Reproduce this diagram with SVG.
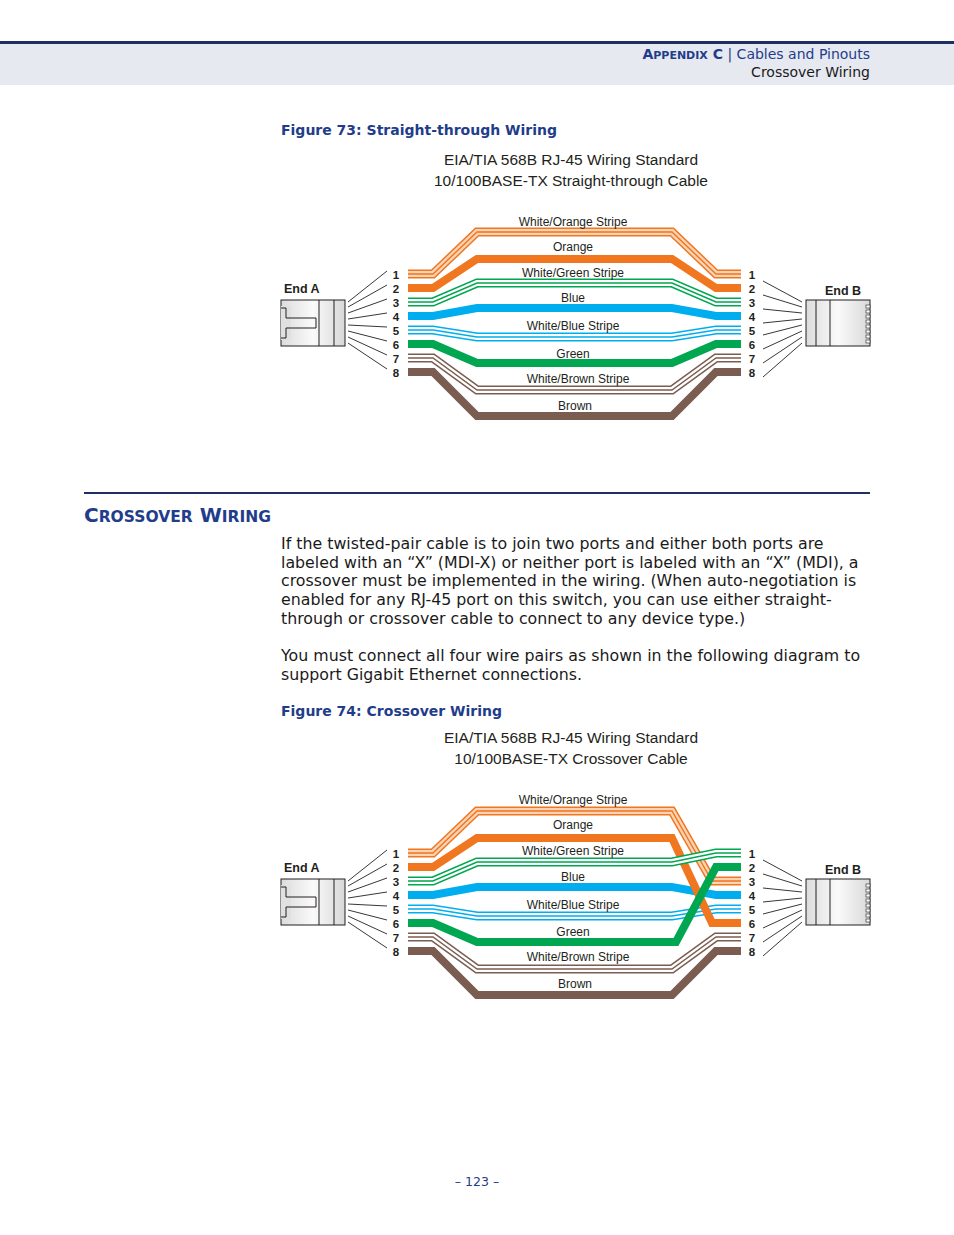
<svg xmlns="http://www.w3.org/2000/svg" width="954" height="1235" viewBox="0 0 954 1235">
<style>
.hd{font-family:"DejaVu Sans",sans-serif;fill:#1f3d8a;font-size:14px}
.body{font-family:"DejaVu Sans",sans-serif;fill:#1a1a1a;font-size:15.8px}
.cap{font-family:"DejaVu Sans",sans-serif;fill:#1f3d8a;font-size:14px;font-weight:bold}
.tt{font-family:"Liberation Sans",Arial,sans-serif;fill:#231f20;font-size:15.5px;text-anchor:middle}
.wl{font-family:"Liberation Sans",Arial,sans-serif;fill:#231f20;font-size:12px;text-anchor:middle}
.pn{font-family:"Liberation Sans",Arial,sans-serif;fill:#231f20;font-size:11.5px;font-weight:bold;text-anchor:middle}
.en{font-family:"Liberation Sans",Arial,sans-serif;fill:#231f20;font-size:12.5px;font-weight:bold}
path{fill:none;stroke-linejoin:miter}
.o1{stroke:#f07620;stroke-width:9}.g1{stroke:#00a650;stroke-width:9}.b1{stroke:#00aeef;stroke-width:9}.r1{stroke:#7a5c50;stroke-width:9}
.w{stroke:#fff;stroke-width:6}
.wo{stroke:#fbd3b5;stroke-width:6}
.o2{stroke:#f07620;stroke-width:1.4}.g2{stroke:#00a650;stroke-width:1.4}.b2{stroke:#00aeef;stroke-width:1.4}.r2{stroke:#7a5c50;stroke-width:1.4}
.O{stroke:#f07620;stroke-width:8}.G{stroke:#00a650;stroke-width:8}.B{stroke:#00aeef;stroke-width:8}.R{stroke:#7a5c50;stroke-width:8}
.fan line{stroke:#231f20;stroke-width:0.9}
</style>
<defs>
<linearGradient id="cg" x1="0" y1="0" x2="1" y2="0"><stop offset="0" stop-color="#dcdcdc"/><stop offset="0.5" stop-color="#fafafa"/><stop offset="1" stop-color="#d8d8d8"/></linearGradient>
<g id="endA">
<rect x="281" y="300" width="64" height="46" fill="url(#cg)" stroke="#231f20"/>
<rect x="281" y="306" width="10" height="34" fill="#e0e0e0" stroke="none"/>
<path d="M281 308 H286 V318 H316 V328 H286 V338 H281" stroke="#231f20" stroke-width="1"/>
<line x1="319" y1="300" x2="319" y2="346" stroke="#231f20"/>
<line x1="334" y1="300" x2="334" y2="346" stroke="#231f20"/>
<g class="fan">
<line x1="387" y1="271" x2="348" y2="302"/><line x1="387" y1="285" x2="348" y2="307"/>
<line x1="387" y1="299" x2="348" y2="313"/><line x1="387" y1="313" x2="348" y2="319"/>
<line x1="387" y1="327" x2="348" y2="325"/><line x1="387" y1="341" x2="348" y2="331"/>
<line x1="387" y1="355" x2="348" y2="337"/><line x1="387" y1="369" x2="348" y2="343"/>
</g>
<text class="en" x="284" y="293">End A</text>
</g>
<g id="endB">
<rect x="806" y="300" width="64" height="46" fill="url(#cg)" stroke="#231f20"/>
<line x1="816" y1="300" x2="816" y2="346" stroke="#231f20"/>
<line x1="830" y1="300" x2="830" y2="346" stroke="#231f20"/>
<g fill="#fff" stroke="#231f20" stroke-width="0.6">
<rect x="866" y="305" width="4" height="3"/><rect x="866" y="310" width="4" height="3"/><rect x="866" y="315" width="4" height="3"/><rect x="866" y="320" width="4" height="3"/><rect x="866" y="325" width="4" height="3"/><rect x="866" y="330" width="4" height="3"/><rect x="866" y="335" width="4" height="3"/><rect x="866" y="340" width="4" height="3"/>
</g>
<g class="fan">
<line x1="763" y1="281" x2="802" y2="302"/><line x1="763" y1="295" x2="802" y2="307"/>
<line x1="763" y1="309" x2="802" y2="313"/><line x1="763" y1="323" x2="802" y2="319"/>
<line x1="763" y1="335" x2="802" y2="325"/><line x1="763" y1="349" x2="802" y2="331"/>
<line x1="763" y1="363" x2="802" y2="337"/><line x1="763" y1="377" x2="802" y2="343"/>
</g>
<text class="en" x="825" y="295">End B</text>
</g>
<g id="nums">
<text class="pn" x="396" y="279">1</text><text class="pn" x="396" y="293">2</text><text class="pn" x="396" y="307">3</text><text class="pn" x="396" y="321">4</text>
<text class="pn" x="396" y="335">5</text><text class="pn" x="396" y="349">6</text><text class="pn" x="396" y="363">7</text><text class="pn" x="396" y="377">8</text>
<text class="pn" x="752" y="279">1</text><text class="pn" x="752" y="293">2</text><text class="pn" x="752" y="307">3</text><text class="pn" x="752" y="321">4</text>
<text class="pn" x="752" y="335">5</text><text class="pn" x="752" y="349">6</text><text class="pn" x="752" y="363">7</text><text class="pn" x="752" y="377">8</text>
</g>
</defs>

<!-- header -->
<rect x="0" y="43" width="954" height="42" fill="#e6e9f0"/>
<rect x="0" y="41" width="954" height="3" fill="#1f2f66"/>
<text class="hd" x="870" y="59" text-anchor="end"><tspan font-weight="bold">A<tspan font-size="11">PPENDIX</tspan> C</tspan>  |  Cables and Pinouts</text>
<text class="hd" x="870" y="77" text-anchor="end" style="fill:#1a1a1a">Crossover Wiring</text>

<!-- Figure 73 -->
<text class="cap" x="281" y="135">Figure 73:  Straight-through Wiring</text>
<text class="tt" x="571" y="165">EIA/TIA 568B RJ-45 Wiring Standard</text>
<text class="tt" x="571" y="186">10/100BASE-TX Straight-through Cable</text>
<g id="fig73">
<use href="#endA"/><use href="#endB"/><use href="#nums"/>
<g id="wires73">
<path class="o1" d="M408 274 H433 L477 232 H672 L716 274 H741"/><path class="wo" d="M408 274 H433 L477 232 H672 L716 274 H741"/><path class="o2" d="M408 274 H433 L477 232 H672 L716 274 H741"/>
<path class="O" d="M408 288 H433 L477 259 H672 L716 288 H741"/>
<path class="g1" d="M408 302 H433 L477 283 H672 L716 302 H741"/><path class="w" d="M408 302 H433 L477 283 H672 L716 302 H741"/><path class="g2" d="M408 302 H433 L477 283 H672 L716 302 H741"/>
<path class="B" d="M408 316 H433 L477 308 H672 L716 316 H741"/>
<path class="b1" d="M408 330 H433 L477 337 H672 L716 330 H741"/><path class="w" d="M408 330 H433 L477 337 H672 L716 330 H741"/><path class="b2" d="M408 330 H433 L477 337 H672 L716 330 H741"/>
<path class="G" d="M408 344 H433 L477 363 H672 L716 344 H741"/>
<path class="r1" d="M408 358 H433 L477 390 H672 L716 358 H741"/><path class="w" d="M408 358 H433 L477 390 H672 L716 358 H741"/><path class="r2" d="M408 358 H433 L477 390 H672 L716 358 H741"/>
<path class="R" d="M408 372 H433 L477 416 H672 L716 372 H741"/>
</g>
<text class="wl" x="573" y="226">White/Orange Stripe</text><text class="wl" x="573" y="251">Orange</text>
<text class="wl" x="573" y="277">White/Green Stripe</text><text class="wl" x="573" y="302">Blue</text>
<text class="wl" x="573" y="330">White/Blue Stripe</text><text class="wl" x="573" y="358">Green</text>
<text class="wl" x="578" y="383">White/Brown Stripe</text><text class="wl" x="575" y="410">Brown</text>
</g>

<!-- section -->
<rect x="84" y="492" width="786" height="2" fill="#1f2f66"/>
<text x="84" y="522" font-family="DejaVu Sans,sans-serif" fill="#1f3d8a" font-size="20" font-weight="bold">C<tspan font-size="15.5">ROSSOVER</tspan> W<tspan font-size="15.5">IRING</tspan></text>
<text class="body"><tspan x="281" y="549">If the twisted-pair cable is to join two ports and either both ports are</tspan><tspan x="281" y="568">labeled with an “X” (MDI-X) or neither port is labeled with an “X” (MDI), a</tspan><tspan x="281" y="586">crossover must be implemented in the wiring. (When auto-negotiation is</tspan><tspan x="281" y="605">enabled for any RJ-45 port on this switch, you can use either straight-</tspan><tspan x="281" y="624">through or crossover cable to connect to any device type.)</tspan><tspan x="281" y="661">You must connect all four wire pairs as shown in the following diagram to</tspan><tspan x="281" y="680">support Gigabit Ethernet connections.</tspan></text>

<!-- Figure 74 -->
<text class="cap" x="281" y="716">Figure 74:  Crossover Wiring</text>
<text class="tt" x="571" y="743">EIA/TIA 568B RJ-45 Wiring Standard</text>
<text class="tt" x="571" y="764">10/100BASE-TX Crossover Cable</text>
<g id="fig74">
<g transform="translate(0,579)"><use href="#endA"/><use href="#endB"/><use href="#nums"/></g>
<g id="wires74">
<path class="r1" d="M408 937 H433 L477 969 H672 L716 937 H741"/><path class="w" d="M408 937 H433 L477 969 H672 L716 937 H741"/><path class="r2" d="M408 937 H433 L477 969 H672 L716 937 H741"/>
<path class="R" d="M408 951 H433 L477 995 H672 L716 951 H741"/>
<path class="B" d="M408 895 H433 L477 887 H672 L716 895 H741"/>
<path class="b1" d="M408 909 H433 L477 916 H672 L716 909 H741"/><path class="w" d="M408 909 H433 L477 916 H672 L716 909 H741"/><path class="b2" d="M408 909 H433 L477 916 H672 L716 909 H741"/>
<path class="o1" d="M408 853 H433 L477 811 H672 L712 881 H741"/><path class="wo" d="M408 853 H433 L477 811 H672 L712 881 H741"/><path class="o2" d="M408 853 H433 L477 811 H672 L712 881 H741"/>
<path class="O" d="M408 867 H433 L477 838 H672 L712 923 H741"/>
<path class="g1" d="M408 881 H433 L477 862 H672 L716 853 H741"/><path class="w" d="M408 881 H433 L477 862 H672 L716 853 H741"/><path class="g2" d="M408 881 H433 L477 862 H672 L716 853 H741"/>
<path class="G" d="M408 923 H433 L477 942 H676 L716 867 H741"/>
</g>
<text class="wl" x="573" y="804">White/Orange Stripe</text><text class="wl" x="573" y="829">Orange</text>
<text class="wl" x="573" y="855">White/Green Stripe</text><text class="wl" x="573" y="881">Blue</text>
<text class="wl" x="573" y="909">White/Blue Stripe</text><text class="wl" x="573" y="936">Green</text>
<text class="wl" x="578" y="961">White/Brown Stripe</text><text class="wl" x="575" y="988">Brown</text>
</g>

<text x="477" y="1186" font-family="DejaVu Sans,sans-serif" font-size="12.5" fill="#1f3d8a" text-anchor="middle">–  123  –</text>
</svg>
